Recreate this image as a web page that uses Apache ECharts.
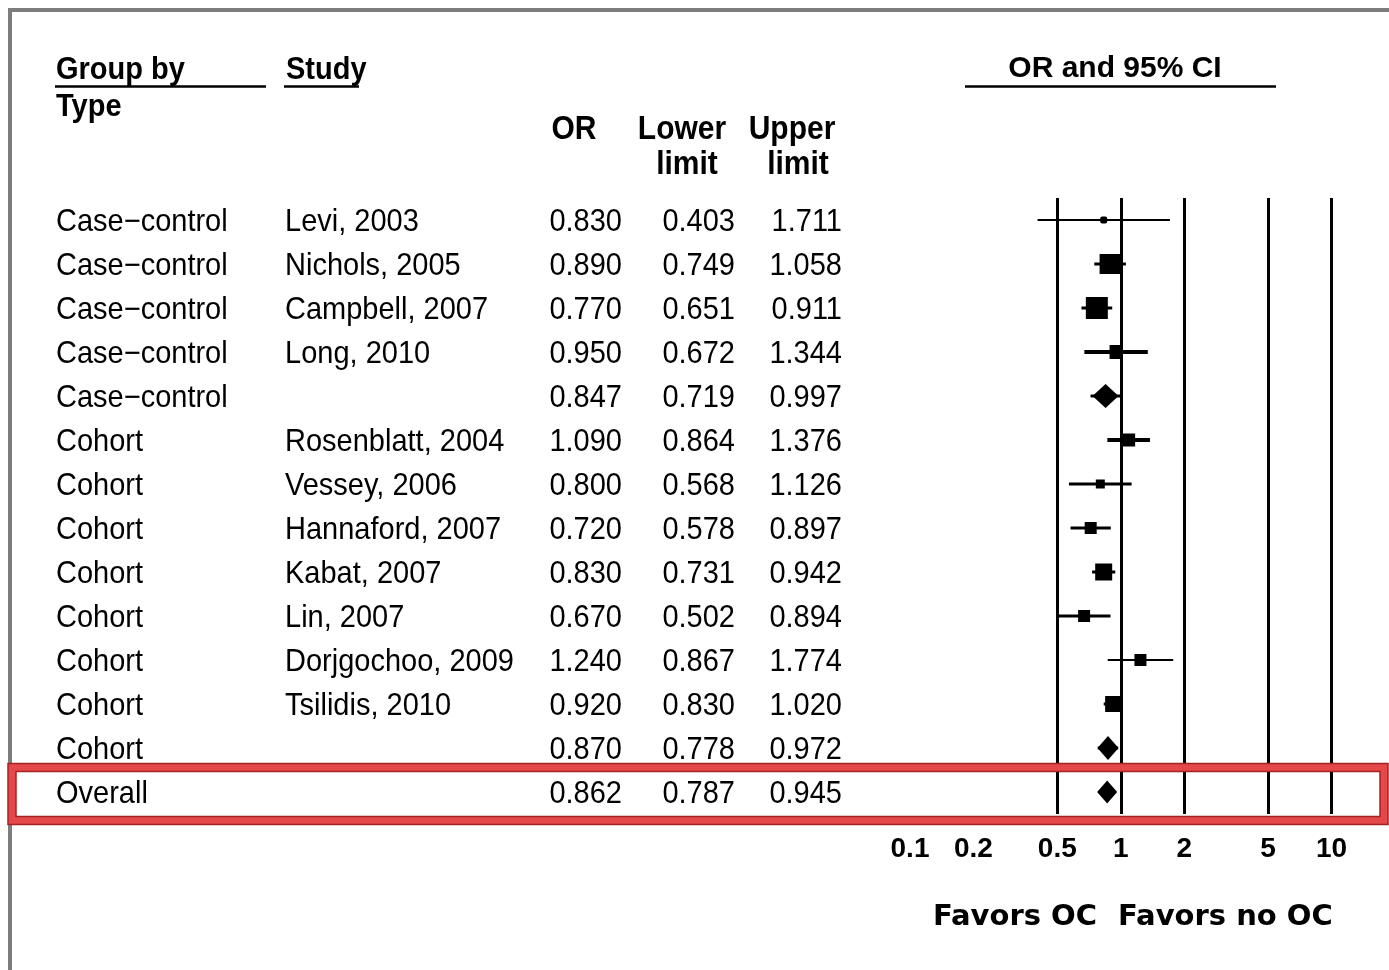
<!DOCTYPE html>
<html>
<head>
<meta charset="utf-8">
<title>Forest plot: oral contraceptives</title>
<script src="https://cdn.jsdelivr.net/npm/echarts@6/dist/echarts.min.js"></script>
<style>
  html, body { margin: 0; padding: 0; background: #fff; }
  #chart { width: 1389px; height: 970px; }
</style>
</head>
<body>
<div id="chart"></div>
<script>
// ---- data ----
const groups = ['Case\u2212control', 'Case\u2212control', 'Case\u2212control', 'Case\u2212control', 'Case\u2212control',
  'Cohort', 'Cohort', 'Cohort', 'Cohort', 'Cohort', 'Cohort', 'Cohort', 'Cohort', 'Overall'];
const studies = ['Levi, 2003', 'Nichols, 2005', 'Campbell, 2007', 'Long, 2010', '',
  'Rosenblatt, 2004', 'Vessey, 2006', 'Hannaford, 2007', 'Kabat, 2007', 'Lin, 2007',
  'Dorjgochoo, 2009', 'Tsilidis, 2010', '', ''];
const orValues    = [0.830, 0.890, 0.770, 0.950, 0.847, 1.090, 0.800, 0.720, 0.830, 0.670, 1.240, 0.920, 0.870, 0.862];
const lowerValues = [0.403, 0.749, 0.651, 0.672, 0.719, 0.864, 0.568, 0.578, 0.731, 0.502, 0.867, 0.830, 0.778, 0.787];
const upperValues = [1.711, 1.058, 0.911, 1.344, 0.997, 1.376, 1.126, 0.897, 0.942, 0.894, 1.774, 1.020, 0.972, 0.945];
// summary rows get a diamond, single studies a weighted box
const isSummary   = [false, false, false, false, true, false, false, false, false, false, false, false, true, true];
const tickValues  = [0.1, 0.2, 0.5, 1, 2, 5, 10];
const tickLabels  = ['0.1', '0.2', '0.5', '1', '2', '5', '10'];
const refLines    = [0.5, 1, 2, 5, 10];

// ---- marker styling (box side / diamond width,height / CI stroke) ----
const markW = [7, 21, 22, 13, 26, 13, 9, 12, 17, 12, 12, 16, 21, 20];
const markH = [7, 20, 22, 14, 24, 13, 9, 12, 17, 12, 12, 16, 24, 23];
const ciWidth = [2, 3, 3, 4, 3, 4, 3, 3, 3, 3, 2, 3, 3, 3];

const FONT = '"Liberation Sans", Arial, sans-serif';
const bodyFont = 'normal 29px ' + FONT;
const TEXT_DY = 2;      // canvas 'middle' sits a little high for this face
const TEXT_SY = 1.08;   // slightly tall lettering

function txt(text, x, y, font, align, sy) {
  return {
    type: 'text', x: x, y: y + TEXT_DY, z: 50, scaleY: sy || TEXT_SY,
    style: { text: text, font: font, fill: '#000', align: align || 'left', verticalAlign: 'middle',
             textAlign: align || 'left', textVerticalAlign: 'middle' }
  };
}
function hline(x1, x2, y, w, color) {
  return { type: 'line', z: 50, shape: { x1: x1, y1: y, x2: x2, y2: y }, style: { stroke: color || '#000', lineWidth: w } };
}

const chart = echarts.init(document.getElementById('chart'), null, { renderer: 'canvas' });

const rows = orValues.map((v, i) => [i, v, lowerValues[i], upperValues[i]]);

function renderRow(params, api) {
  const i = api.value(0);
  const c = api.coord([api.value(1), i]);
  const lo = api.coord([api.value(2), i]);
  const hi = api.coord([api.value(3), i]);
  const y = c[1];
  const w = markW[i], h = markH[i];
  const children = [
    { type: 'line', shape: { x1: lo[0], y1: y, x2: hi[0], y2: y }, style: { stroke: '#000', lineWidth: ciWidth[i] } }
  ];
  if (isSummary[i]) {
    children.push({ type: 'polygon', shape: { points: [[c[0] - w / 2, y], [c[0], y - h / 2], [c[0] + w / 2, y], [c[0], y + h / 2]] },
      style: { fill: '#000' } });
  } else {
    children.push({ type: 'rect', shape: { x: c[0] - w / 2, y: y - h / 2, width: w, height: h, r: i === 0 ? 2 : 0 }, style: { fill: '#000' } });
  }
  // table columns
  children.push(txt(groups[i], 56, y, bodyFont, 'left'));
  if (studies[i]) children.push(txt(studies[i], 285, y, bodyFont, 'left'));
  children.push(txt(orValues[i].toFixed(3), 622, y, bodyFont, 'right'));
  children.push(txt(lowerValues[i].toFixed(3), 735, y, bodyFont, 'right'));
  children.push(txt(upperValues[i].toFixed(3), 842, y, bodyFont, 'right'));
  return { type: 'group', children: children };
}

const boldHead = 'bold 29px ' + FONT;
const boldCol = 'bold 30px ' + FONT;
const capFont = 'bold 29px "DejaVu Sans", sans-serif';

const option = {
  backgroundColor: '#fff',
  animation: false,
  grid: { left: 910, top: 198, width: 421.5, height: 616 },
  xAxis: {
    type: 'log', logBase: 10, min: 0.1, max: 10,
    axisLine: { show: false }, axisTick: { show: false }, splitLine: { show: false },
    axisLabel: {
      customValues: tickValues,
      margin: 21,
      color: '#000',
      fontFamily: FONT,
      fontWeight: 'bold',
      fontSize: 28,
      formatter: function (v) {
        let best = 0;
        tickValues.forEach((t, k) => { if (Math.abs(Math.log10(t) - Math.log10(v)) < Math.abs(Math.log10(tickValues[best]) - Math.log10(v))) best = k; });
        return tickLabels[best];
      }
    }
  },
  yAxis: {
    type: 'category', inverse: true,
    data: rows.map(r => String(r[0])),
    axisLine: { show: false }, axisTick: { show: false }, axisLabel: { show: false }, splitLine: { show: false }
  },
  series: [{
    type: 'custom',
    clip: false,
    data: rows,
    encode: { x: [1, 2, 3], y: 0 },
    renderItem: renderRow,
    markLine: {
      silent: true,
      symbol: 'none',
      label: { show: false },
      lineStyle: { color: '#000', width: 3, type: 'solid' },
      data: refLines.map(v => ({ xAxis: v }))
    }
  }],
  graphic: [
    // outer frame
    { type: 'line', z: 60, shape: { x1: 8, y1: 10, x2: 1389, y2: 10 }, style: { stroke: '#7d7d7d', lineWidth: 4 } },
    { type: 'line', z: 60, shape: { x1: 10, y1: 8, x2: 10, y2: 970 }, style: { stroke: '#7d7d7d', lineWidth: 4 } },
    // column headers
    txt('Group by', 56, 68, boldHead),
    hline(55, 266, 86.5, 2.5),
    txt('Type', 56, 105, boldHead),
    txt('Study', 286, 68, boldHead),
    hline(284, 359, 86.5, 2.5),
    txt('OR', 574, 128, boldCol, 'center'),
    txt('Lower', 682, 128, boldCol, 'center'),
    txt('limit', 687, 163, boldCol, 'center'),
    txt('Upper', 792, 128, boldCol, 'center'),
    txt('limit', 798, 163, boldCol, 'center'),
    txt('OR and 95% CI', 1115, 67, 'bold 30px ' + FONT, 'center', 1),
    hline(965, 1276, 86.5, 2.5),
    // direction captions
    txt('Favors OC', 1097, 915, capFont, 'right', 1),
    txt('Favors no OC', 1118, 915, capFont, 'left', 1),
    // highlight around the pooled estimate
    { type: 'rect', z: 100, shape: { x: 12, y: 767.5, width: 1372, height: 53 }, style: { fill: null, stroke: '#e44848', lineWidth: 8 } },
    { type: 'rect', z: 101, shape: { x: 8, y: 763.5, width: 1380, height: 61 }, style: { fill: null, stroke: '#a52222', lineWidth: 1.5 } },
    { type: 'rect', z: 101, shape: { x: 16, y: 771.5, width: 1364, height: 45 }, style: { fill: null, stroke: '#a52222', lineWidth: 1.5 } }
  ]
};

chart.setOption(option);
</script>
</body>
</html>
